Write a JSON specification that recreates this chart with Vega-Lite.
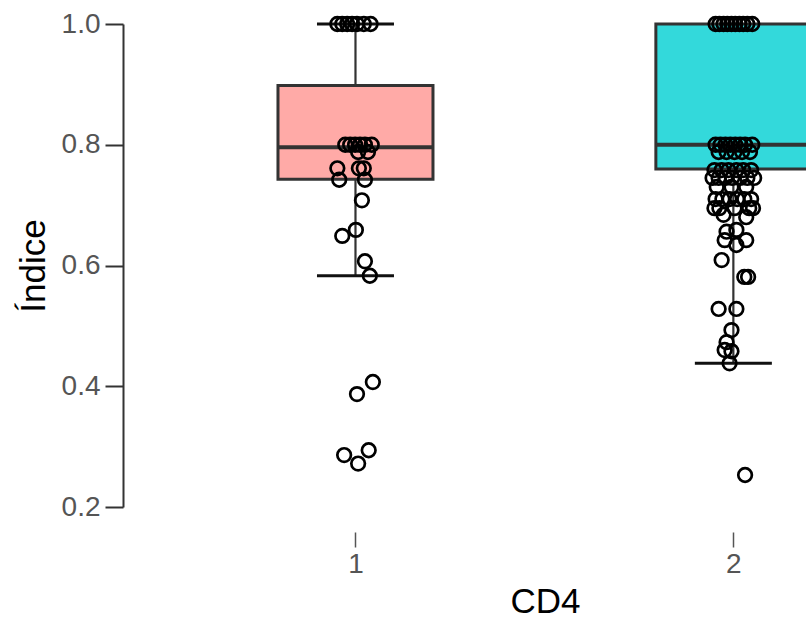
{
  "$schema": "https://vega.github.io/schema/vega-lite/v6.json",
  "autosize": {"type": "none"},
  "padding": {"left": 123, "top": 24, "right": 0, "bottom": 114},
  "width": 683,
  "height": 483,
  "background": "white",
  "config": {
    "view": {"stroke": null},
    "font": "Liberation Sans"
  },
  "datasets": {
    "box": [
      {"grupo": 1, "lo": 0.583, "q1": 0.743, "med": 0.796, "q3": 0.898, "hi": 1.0},
      {"grupo": 2, "lo": 0.438, "q1": 0.760, "med": 0.800, "q3": 1.0, "hi": 1.0}
    ],
    "pts": [
      {"grupo": 1, "xj": 0.952, "indice": 1.0},
      {"grupo": 1, "xj": 0.965, "indice": 1.0},
      {"grupo": 1, "xj": 0.978, "indice": 1.0},
      {"grupo": 1, "xj": 0.991, "indice": 1.0},
      {"grupo": 1, "xj": 1.004, "indice": 1.0},
      {"grupo": 1, "xj": 1.022, "indice": 1.0},
      {"grupo": 1, "xj": 1.040, "indice": 1.0},
      {"grupo": 1, "xj": 0.973, "indice": 0.8},
      {"grupo": 1, "xj": 0.986, "indice": 0.8},
      {"grupo": 1, "xj": 0.999, "indice": 0.8},
      {"grupo": 1, "xj": 1.012, "indice": 0.8},
      {"grupo": 1, "xj": 1.025, "indice": 0.8},
      {"grupo": 1, "xj": 1.043, "indice": 0.8},
      {"grupo": 1, "xj": 1.007, "indice": 0.788},
      {"grupo": 1, "xj": 1.033, "indice": 0.788},
      {"grupo": 1, "xj": 0.952, "indice": 0.761},
      {"grupo": 1, "xj": 1.009, "indice": 0.761},
      {"grupo": 1, "xj": 1.022, "indice": 0.761},
      {"grupo": 1, "xj": 0.957, "indice": 0.742},
      {"grupo": 1, "xj": 1.025, "indice": 0.742},
      {"grupo": 1, "xj": 1.017, "indice": 0.708},
      {"grupo": 1, "xj": 0.965, "indice": 0.649},
      {"grupo": 1, "xj": 1.001, "indice": 0.659},
      {"grupo": 1, "xj": 1.025, "indice": 0.607},
      {"grupo": 1, "xj": 1.038, "indice": 0.583},
      {"grupo": 1, "xj": 1.046, "indice": 0.407},
      {"grupo": 1, "xj": 1.004, "indice": 0.387},
      {"grupo": 1, "xj": 1.035, "indice": 0.294},
      {"grupo": 1, "xj": 0.970, "indice": 0.286},
      {"grupo": 1, "xj": 1.007, "indice": 0.272},

      {"grupo": 2, "xj": 1.953, "indice": 1.0},
      {"grupo": 2, "xj": 1.963, "indice": 1.0},
      {"grupo": 2, "xj": 1.974, "indice": 1.0},
      {"grupo": 2, "xj": 1.984, "indice": 1.0},
      {"grupo": 2, "xj": 1.995, "indice": 1.0},
      {"grupo": 2, "xj": 2.005, "indice": 1.0},
      {"grupo": 2, "xj": 2.016, "indice": 1.0},
      {"grupo": 2, "xj": 2.026, "indice": 1.0},
      {"grupo": 2, "xj": 2.037, "indice": 1.0},
      {"grupo": 2, "xj": 2.050, "indice": 1.0},
      {"grupo": 2, "xj": 1.953, "indice": 0.8},
      {"grupo": 2, "xj": 1.966, "indice": 0.8},
      {"grupo": 2, "xj": 1.979, "indice": 0.8},
      {"grupo": 2, "xj": 1.992, "indice": 0.8},
      {"grupo": 2, "xj": 2.005, "indice": 0.8},
      {"grupo": 2, "xj": 2.018, "indice": 0.8},
      {"grupo": 2, "xj": 2.031, "indice": 0.8},
      {"grupo": 2, "xj": 2.050, "indice": 0.8},
      {"grupo": 2, "xj": 1.961, "indice": 0.788},
      {"grupo": 2, "xj": 1.982, "indice": 0.788},
      {"grupo": 2, "xj": 2.003, "indice": 0.788},
      {"grupo": 2, "xj": 2.023, "indice": 0.788},
      {"grupo": 2, "xj": 2.044, "indice": 0.788},
      {"grupo": 2, "xj": 1.950, "indice": 0.758},
      {"grupo": 2, "xj": 1.969, "indice": 0.758},
      {"grupo": 2, "xj": 1.987, "indice": 0.758},
      {"grupo": 2, "xj": 2.008, "indice": 0.758},
      {"grupo": 2, "xj": 2.026, "indice": 0.758},
      {"grupo": 2, "xj": 2.047, "indice": 0.758},
      {"grupo": 2, "xj": 1.945, "indice": 0.745},
      {"grupo": 2, "xj": 1.961, "indice": 0.745},
      {"grupo": 2, "xj": 1.979, "indice": 0.745},
      {"grupo": 2, "xj": 1.997, "indice": 0.745},
      {"grupo": 2, "xj": 2.018, "indice": 0.745},
      {"grupo": 2, "xj": 2.037, "indice": 0.745},
      {"grupo": 2, "xj": 2.055, "indice": 0.745},
      {"grupo": 2, "xj": 1.956, "indice": 0.73},
      {"grupo": 2, "xj": 1.995, "indice": 0.73},
      {"grupo": 2, "xj": 2.034, "indice": 0.73},
      {"grupo": 2, "xj": 1.953, "indice": 0.71},
      {"grupo": 2, "xj": 1.971, "indice": 0.71},
      {"grupo": 2, "xj": 1.990, "indice": 0.71},
      {"grupo": 2, "xj": 2.010, "indice": 0.71},
      {"grupo": 2, "xj": 2.029, "indice": 0.71},
      {"grupo": 2, "xj": 2.047, "indice": 0.71},
      {"grupo": 2, "xj": 1.950, "indice": 0.695},
      {"grupo": 2, "xj": 1.963, "indice": 0.695},
      {"grupo": 2, "xj": 2.003, "indice": 0.695},
      {"grupo": 2, "xj": 2.042, "indice": 0.695},
      {"grupo": 2, "xj": 2.052, "indice": 0.695},
      {"grupo": 2, "xj": 1.974, "indice": 0.684},
      {"grupo": 2, "xj": 2.034, "indice": 0.68},
      {"grupo": 2, "xj": 1.982, "indice": 0.656},
      {"grupo": 2, "xj": 2.008, "indice": 0.659},
      {"grupo": 2, "xj": 1.977, "indice": 0.642},
      {"grupo": 2, "xj": 2.034, "indice": 0.642},
      {"grupo": 2, "xj": 2.008, "indice": 0.634},
      {"grupo": 2, "xj": 1.969, "indice": 0.609},
      {"grupo": 2, "xj": 2.029, "indice": 0.581},
      {"grupo": 2, "xj": 2.039, "indice": 0.581},
      {"grupo": 2, "xj": 1.961, "indice": 0.528},
      {"grupo": 2, "xj": 2.008, "indice": 0.528},
      {"grupo": 2, "xj": 1.995, "indice": 0.493},
      {"grupo": 2, "xj": 1.982, "indice": 0.473},
      {"grupo": 2, "xj": 1.977, "indice": 0.46},
      {"grupo": 2, "xj": 1.995, "indice": 0.458},
      {"grupo": 2, "xj": 1.990, "indice": 0.438},
      {"grupo": 2, "xj": 2.031, "indice": 0.253}
    ]
  },
  "encoding": {
    "x": {
      "type": "quantitative",
      "scale": {"domain": [0.398, 2.179], "nice": false, "zero": false},
      "axis": {
        "values": [1, 2],
        "format": "d",
        "domain": false,
        "grid": false,
        "offset": 25,
        "tickSize": 15,
        "tickWidth": 1.5,
        "tickColor": "#555555",
        "labelFontSize": 28,
        "labelColor": "#555555",
        "labelPadding": 3,
        "title": "CD4",
        "titleFontSize": 35,
        "titleFontWeight": "normal",
        "titleColor": "#000000",
        "titleX": 422,
        "titlePadding": 6
      }
    },
    "y": {
      "type": "quantitative",
      "scale": {"domain": [0.2, 1.0], "nice": false, "zero": false},
      "axis": {
        "values": [0.2, 0.4, 0.6, 0.8, 1.0],
        "format": ".1f",
        "grid": false,
        "domainColor": "#333333",
        "domainWidth": 2,
        "tickSize": 18,
        "tickWidth": 2,
        "tickColor": "#333333",
        "labelFontSize": 28,
        "labelColor": "#555555",
        "labelPadding": 5,
        "title": "Índice",
        "titleFontSize": 35,
        "titleFontWeight": "normal",
        "titleColor": "#000000",
        "titlePadding": 10
      }
    }
  },
  "layer": [
    {
      "data": {"name": "box"},
      "mark": {"type": "rule", "color": "#333333", "strokeWidth": 2.2},
      "encoding": {
        "x": {"field": "grupo"},
        "y": {"field": "lo"},
        "y2": {"field": "hi"}
      }
    },
    {
      "data": {"name": "box"},
      "mark": {"type": "bar", "size": 155, "stroke": "#333333", "strokeWidth": 3, "opacity": 1},
      "encoding": {
        "x": {"field": "grupo"},
        "y": {"field": "q1"},
        "y2": {"field": "q3"},
        "fill": {
          "field": "grupo",
          "type": "nominal",
          "scale": {"domain": [1, 2], "range": ["#FFAAA7", "#33D9DB"]},
          "legend": null
        }
      }
    },
    {
      "data": {"name": "box"},
      "mark": {"type": "tick", "orient": "horizontal", "size": 155, "thickness": 4, "color": "#333333", "opacity": 1},
      "encoding": {
        "x": {"field": "grupo"},
        "y": {"field": "med"}
      }
    },
    {
      "data": {"name": "box"},
      "mark": {"type": "tick", "orient": "horizontal", "size": 77, "thickness": 3, "color": "#111111", "opacity": 1},
      "encoding": {
        "x": {"field": "grupo"},
        "y": {"field": "lo"}
      }
    },
    {
      "data": {"name": "box"},
      "transform": [{"filter": "datum.grupo == 1"}],
      "mark": {"type": "tick", "orient": "horizontal", "size": 77, "thickness": 3, "color": "#111111", "opacity": 1},
      "encoding": {
        "x": {"field": "grupo"},
        "y": {"field": "hi"}
      }
    },
    {
      "data": {"name": "pts"},
      "mark": {"type": "point", "shape": "circle", "filled": false, "size": 185, "strokeWidth": 2.7, "color": "#000000", "opacity": 1},
      "encoding": {
        "x": {"field": "xj"},
        "y": {"field": "indice"}
      }
    }
  ]
}
